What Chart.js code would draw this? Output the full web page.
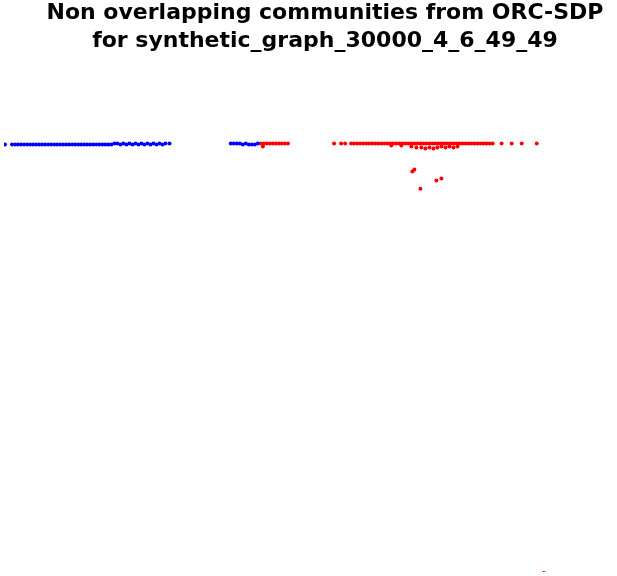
<!DOCTYPE html>
<html>
<head>
<meta charset="utf-8">
<script src="https://cdn.jsdelivr.net/npm/chart.js@4"></script>
<style>
  body { margin: 0; background: #fff; }
  #wrap { position: relative; width: 617px; height: 576px; }
  #title { position: absolute; left: 0; top: -2px; width: 650px; text-align: center;
           font-family: "DejaVu Sans", sans-serif; font-weight: bold; font-size: 22px;
           line-height: 28px; color: #000; }
  canvas { position: absolute; left: 0; top: 0; }
</style>
</head>
<body>
<div id="wrap">
  <canvas id="chart" width="617" height="576"></canvas>
  <div id="title">Non overlapping communities from ORC-SDP<br>for synthetic_graph_30000_4_6_49_49</div>
</div>
<script>
// community 1 (blue)
var blueX = [5, 12, 15, 18, 21, 24, 27, 30, 33, 36, 39, 42, 45, 48, 51, 54, 57, 60, 63, 66, 69, 72, 75, 78, 81, 84, 87, 90, 93, 96, 99, 102, 105, 108, 111, 114, 117, 120, 123, 126, 129, 132, 135, 138, 141, 144, 147, 150, 153, 156, 159, 162, 165, 169,
             230, 233, 236, 239, 242, 245, 248, 251, 254, 257];
var blueY = [144, 144, 144, 144, 144, 144, 144, 144, 144, 144, 144, 144, 144, 144, 144, 144, 144, 144, 144, 144, 144, 144, 144, 144, 144, 144, 144, 144, 144, 144, 144, 144, 144, 144, 144, 143, 143, 144, 143, 144, 143, 144, 143, 144, 143, 144, 143, 144, 143, 144, 143, 144, 143, 143,
             143, 143, 143, 143, 144, 143, 144, 144, 144, 143];
// community 2 (red)
var redX = [260, 263, 266, 269, 272, 275, 278, 281, 284, 287, 262,
            333, 340, 344, 350, 353, 356, 359, 362, 365, 368, 371, 374, 377, 380, 383, 386, 389, 392, 395, 398, 401, 404, 407, 410, 413, 416, 419, 422, 425, 428, 431, 434, 437, 440, 443, 446, 449, 452, 455, 458, 461, 464, 467, 470, 473, 476, 479, 482, 485, 488, 491, 500, 510, 520, 535,
            390, 400, 410, 415, 420, 424, 428, 432, 436, 440, 444, 448, 452, 456,
            411, 413, 419, 435, 440, 542];
var redY = [143, 143, 143, 143, 143, 143, 143, 143, 143, 143, 146,
            143, 143, 143, 143, 143, 143, 143, 143, 143, 143, 143, 143, 143, 143, 143, 143, 143, 143, 143, 143, 143, 143, 143, 143, 143, 143, 143, 143, 143, 143, 143, 143, 143, 143, 143, 143, 143, 143, 143, 143, 143, 143, 143, 143, 143, 143, 143, 143, 143, 143, 143, 143, 143, 143, 143,
            145, 145, 146, 147, 147, 148, 147, 148, 147, 146, 147, 146, 147, 146,
            171, 169, 188, 180, 178, 571];

function toPoints(xs, ys) {
    var pts = [];
    for (var i = 0; i < xs.length; i++) pts.push({ x: xs[i], y: ys[i] });
    return pts;
}

var ctx = document.getElementById('chart').getContext('2d');
var chart = new Chart(ctx, {
    type: 'scatter',
    data: {
        datasets: [
            { data: toPoints(blueX, blueY), backgroundColor: '#0000ff', borderColor: '#0000ff', pointRadius: 2, borderWidth: 0 },
            { data: toPoints(redX, redY), backgroundColor: '#ff0000', borderColor: '#ff0000', pointRadius: 2, borderWidth: 0 }
        ]
    },
    options: {
        responsive: false,
        animation: false,
        layout: { padding: 0 },
        plugins: { legend: { display: false }, tooltip: { enabled: false } },
        scales: {
            x: { type: 'linear', min: 4, max: 611, display: false },
            y: { type: 'linear', min: 4, max: 570, reverse: true, display: false }
        }
    }
});
</script>
</body>
</html>
